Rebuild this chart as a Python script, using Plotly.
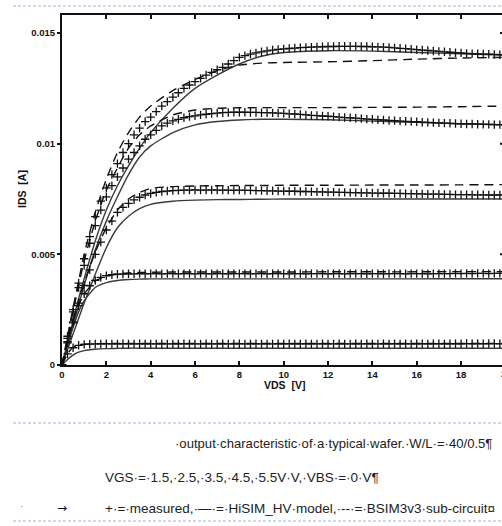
import plotly.graph_objects as go

# ---------------- data ----------------
vds_meas = [0.0, 0.25, 0.5, 0.75, 1.0, 1.25, 1.5, 1.75, 2.0, 2.25,
            2.5, 2.75, 3.0, 3.25, 3.5, 3.75, 4.0, 4.25, 4.5, 4.75,
            5.0, 5.25, 5.5, 5.75, 6.0, 6.25, 6.5, 6.75, 7.0, 7.25,
            7.5, 7.75, 8.0, 8.25, 8.5, 8.75, 9.0, 9.25, 9.5, 9.75,
            10.0, 10.25, 10.5, 10.75, 11.0, 11.25, 11.5, 11.75, 12.0, 12.25,
            12.5, 12.75, 13.0, 13.25, 13.5, 13.75, 14.0, 14.25, 14.5, 14.75,
            15.0, 15.25, 15.5, 15.75, 16.0, 16.25, 16.5, 16.75, 17.0, 17.25,
            17.5, 17.75, 18.0, 18.25, 18.5, 18.75, 19.0, 19.25, 19.5, 19.75,
            20.0]

meas_vgs15 = [0, 0.00050, 0.00078, 0.00089, 0.00093, 0.00094, 0.00095, 0.00095, 0.00096, 0.00095,
              0.00095, 0.00096, 0.00095, 0.00095, 0.00096, 0.00095, 0.00095, 0.00095, 0.00096, 0.00095,
              0.00095, 0.00095, 0.00096, 0.00095, 0.00095, 0.00095, 0.00096, 0.00095, 0.00095, 0.00096,
              0.00095, 0.00095, 0.00096, 0.00095, 0.00095, 0.00096, 0.00095, 0.00095, 0.00095, 0.00096,
              0.00095, 0.00096, 0.00095, 0.00095, 0.00096, 0.00095, 0.00095, 0.00096, 0.00095, 0.00095,
              0.00096, 0.00095, 0.00095, 0.00096, 0.00095, 0.00096, 0.00095, 0.00095, 0.00096, 0.00095,
              0.00096, 0.00095, 0.00096, 0.00095, 0.00096, 0.00096, 0.00095, 0.00096, 0.00096, 0.00095,
              0.00096, 0.00096, 0.00096, 0.00097, 0.00096, 0.00097, 0.00096, 0.00097, 0.00097, 0.00096,
              0.00097]

meas_vgs25 = [0, 0.00105, 0.00195, 0.00268, 0.00322, 0.00358, 0.00382, 0.00396, 0.00404, 0.00408,
              0.00410, 0.00411, 0.00412, 0.00412, 0.00413, 0.00412, 0.00413, 0.00413, 0.00412, 0.00413,
              0.00413, 0.00412, 0.00413, 0.00413, 0.00412, 0.00413, 0.00413, 0.00412, 0.00413, 0.00413,
              0.00412, 0.00413, 0.00413, 0.00413, 0.00412, 0.00413, 0.00413, 0.00412, 0.00413, 0.00413,
              0.00413, 0.00412, 0.00413, 0.00413, 0.00412, 0.00413, 0.00413, 0.00413, 0.00412, 0.00413,
              0.00413, 0.00412, 0.00413, 0.00413, 0.00413, 0.00412, 0.00413, 0.00413, 0.00412, 0.00413,
              0.00413, 0.00413, 0.00412, 0.00413, 0.00413, 0.00413, 0.00412, 0.00413, 0.00413, 0.00413,
              0.00413, 0.00414, 0.00413, 0.00414, 0.00413, 0.00414, 0.00414, 0.00413, 0.00414, 0.00414,
              0.00414]

meas_vgs35 = [0, 0.00100, 0.00190, 0.00280, 0.00360, 0.00430, 0.00500, 0.00555, 0.00610, 0.00650,
              0.00690, 0.00712, 0.00730, 0.00746, 0.00758, 0.00768, 0.00775, 0.00780, 0.00784, 0.00786,
              0.00788, 0.00789, 0.00790, 0.00790, 0.00791, 0.00790, 0.00790, 0.00791, 0.00790, 0.00790,
              0.00790, 0.00789, 0.00790, 0.00789, 0.00789, 0.00788, 0.00788, 0.00787, 0.00787, 0.00786,
              0.00786, 0.00785, 0.00785, 0.00784, 0.00784, 0.00783, 0.00782, 0.00782, 0.00781, 0.00781,
              0.00780, 0.00780, 0.00779, 0.00779, 0.00778, 0.00778, 0.00777, 0.00777, 0.00776, 0.00776,
              0.00775, 0.00775, 0.00774, 0.00774, 0.00773, 0.00773, 0.00772, 0.00772, 0.00772, 0.00771,
              0.00771, 0.00770, 0.00770, 0.00770, 0.00769, 0.00769, 0.00769, 0.00768, 0.00768, 0.00768,
              0.00768]

meas_vgs45 = [0, 0.00120, 0.00240, 0.00350, 0.00450, 0.00550, 0.00630, 0.00700, 0.00760, 0.00810,
              0.00850, 0.00890, 0.00930, 0.00960, 0.00990, 0.01020, 0.01040, 0.01060, 0.01080, 0.01093,
              0.01103, 0.01110, 0.01117, 0.01122, 0.01126, 0.01130, 0.01133, 0.01136, 0.01138, 0.01140,
              0.01141, 0.01142, 0.01142, 0.01142, 0.01141, 0.01141, 0.01140, 0.01140, 0.01139, 0.01138,
              0.01137, 0.01135, 0.01134, 0.01132, 0.01130, 0.01128, 0.01127, 0.01125, 0.01124, 0.01122,
              0.01120, 0.01118, 0.01117, 0.01115, 0.01113, 0.01111, 0.01110, 0.01108, 0.01107, 0.01105,
              0.01104, 0.01102, 0.01101, 0.01100, 0.01099, 0.01097, 0.01096, 0.01095, 0.01094, 0.01093,
              0.01092, 0.01091, 0.01090, 0.01089, 0.01089, 0.01088, 0.01087, 0.01087, 0.01086, 0.01086,
              0.01085]

meas_vgs55 = [0, 0.00130, 0.00250, 0.00370, 0.00480, 0.00580, 0.00670, 0.00740, 0.00800, 0.00860,
              0.00910, 0.00960, 0.01000, 0.01040, 0.01070, 0.01100, 0.01120, 0.01145, 0.01170, 0.01190,
              0.01210, 0.01230, 0.01250, 0.01265, 0.01280, 0.01295, 0.01310, 0.01322, 0.01334, 0.01345,
              0.01360, 0.01375, 0.01390, 0.01398, 0.01405, 0.01410, 0.01415, 0.01419, 0.01423, 0.01426,
              0.01428, 0.01430, 0.01432, 0.01434, 0.01435, 0.01436, 0.01437, 0.01438, 0.01439, 0.01439,
              0.01440, 0.01440, 0.01440, 0.01440, 0.01439, 0.01439, 0.01438, 0.01437, 0.01436, 0.01435,
              0.01433, 0.01431, 0.01429, 0.01427, 0.01425, 0.01423, 0.01421, 0.01419, 0.01417, 0.01415,
              0.01413, 0.01411, 0.01410, 0.01408, 0.01407, 0.01406, 0.01405, 0.01404, 0.01403, 0.01402,
              0.01402]

vds_model = [0, 0.25, 0.5, 0.75, 1, 1.5, 2, 2.5, 3, 3.5, 4, 5, 6, 7, 8, 9, 10, 12, 14, 16, 18, 20]

hisim_vgs15 = [0, 0.00025, 0.00045, 0.00058, 0.00065, 0.00071, 0.00074, 0.00075, 0.00076, 0.00076, 0.00076,
               0.00076, 0.00076, 0.00076, 0.00076, 0.00076, 0.00076, 0.00076, 0.00076, 0.00076, 0.00076, 0.00076]
hisim_vgs25 = [0, 0.00090, 0.00170, 0.00240, 0.00290, 0.00350, 0.00372, 0.00382, 0.00386, 0.00388, 0.00389,
               0.00389, 0.00389, 0.00389, 0.00389, 0.00389, 0.00389, 0.00389, 0.00389, 0.00389, 0.00390, 0.00390]
hisim_vgs35 = [0, 0.00070, 0.00140, 0.00210, 0.00280, 0.00410, 0.00530, 0.00620, 0.00672, 0.00706, 0.00726,
               0.00740, 0.00745, 0.00747, 0.00748, 0.00749, 0.00750, 0.00750, 0.00750, 0.00750, 0.00750, 0.00750]
hisim_vgs45 = [0, 0.00090, 0.00180, 0.00270, 0.00360, 0.00520, 0.00650, 0.00760, 0.00860, 0.00940, 0.00990,
               0.01050, 0.01085, 0.01100, 0.01107, 0.01110, 0.01110, 0.01108, 0.01102, 0.01096, 0.01090, 0.01085]
hisim_vgs55 = [0, 0.00100, 0.00200, 0.00300, 0.00390, 0.00560, 0.00700, 0.00810, 0.00900, 0.00980, 0.01050,
               0.01160, 0.01250, 0.01310, 0.01360, 0.01395, 0.01412, 0.01420, 0.01418, 0.01412, 0.01406, 0.01400]

bsim_vgs15 = [0, 0.00050, 0.00080, 0.00090, 0.00094, 0.00096, 0.00097, 0.00097, 0.00097, 0.00097, 0.00097,
              0.00097, 0.00097, 0.00097, 0.00097, 0.00097, 0.00097, 0.00097, 0.00097, 0.00097, 0.00097, 0.00097]
bsim_vgs25 = [0, 0.00110, 0.00200, 0.00270, 0.00320, 0.00380, 0.00400, 0.00412, 0.00416, 0.00418, 0.00419,
              0.00420, 0.00420, 0.00420, 0.00420, 0.00420, 0.00420, 0.00421, 0.00421, 0.00421, 0.00422, 0.00422]
bsim_vgs35 = [0, 0.00100, 0.00200, 0.00290, 0.00370, 0.00510, 0.00620, 0.00700, 0.00750, 0.00780, 0.00798,
              0.00806, 0.00809, 0.00810, 0.00811, 0.00811, 0.00812, 0.00812, 0.00813, 0.00813, 0.00814, 0.00815]
bsim_vgs45 = [0, 0.00120, 0.00240, 0.00360, 0.00470, 0.00650, 0.00790, 0.00890, 0.00980, 0.01040, 0.01080,
              0.01130, 0.01152, 0.01160, 0.01162, 0.01163, 0.01163, 0.01163, 0.01164, 0.01165, 0.01167, 0.01170]
bsim_vgs55 = [0, 0.00130, 0.00260, 0.00380, 0.00500, 0.00690, 0.00840, 0.00960, 0.01050, 0.01120, 0.01170,
              0.01240, 0.01290, 0.01330, 0.01355, 0.01364, 0.01367, 0.01370, 0.01375, 0.01382, 0.01387, 0.01390]

x_tickvals = [0, 2, 4, 6, 8, 10, 12, 14, 16, 18]
x_ticktext = ["0", "2", "4", "6", "8", "10", "12", "14", "16", "18"]
y_tickvals = [0, 0.005, 0.01, 0.015]
y_ticktext = ["0", "0.005", "0.01", "0.015"]

caption_1 = "·output·characteristic·of·a·typical·wafer.·W/L·=·40/0.5¶"
caption_2 = "VGS·=·1.5,·2.5,·3.5,·4.5,·5.5V·V,·VBS·=·0·V¶"
caption_3 = "+·=·measured,·—·=·HiSIM_HV·model,·--·=·BSIM3v3·sub-circuit¤"

# ---------------- layout geometry (pixels) ----------------
W, H = 502, 526
L, T, B_PX = 62, 15, 365          # plot left, top, bottom in px
PW = W - L
PH = B_PX - T


def px_x(p):
    return (p - L) / PW


def px_y(p):
    return (B_PX - p) / PH


fig = go.Figure()

hisim = [hisim_vgs15, hisim_vgs25, hisim_vgs35, hisim_vgs45, hisim_vgs55]
bsim = [bsim_vgs15, bsim_vgs25, bsim_vgs35, bsim_vgs45, bsim_vgs55]
meas = [meas_vgs15, meas_vgs25, meas_vgs35, meas_vgs45, meas_vgs55]

for ys in hisim:
    fig.add_trace(go.Scatter(x=vds_model, y=ys, mode="lines",
                             line=dict(color="#3a3a3a", width=1.4, shape="spline", smoothing=0.6),
                             showlegend=False, hoverinfo="skip"))
for ys in bsim:
    fig.add_trace(go.Scatter(x=vds_model, y=ys, mode="lines",
                             line=dict(color="#111111", width=1.4, dash="9px,6px", shape="spline", smoothing=0.6),
                             showlegend=False, hoverinfo="skip"))
for ys in meas:
    fig.add_trace(go.Scatter(x=vds_meas, y=ys, mode="markers",
                             marker=dict(symbol="cross-thin", size=6,
                                         line=dict(color="#111111", width=1.3)),
                             showlegend=False, hoverinfo="skip"))

tickfont = dict(family="Liberation Sans", size=9.5, color="#111111", weight="bold")
titlefont = dict(family="Liberation Sans", size=10.5, color="#111111", weight="bold")

fig.update_xaxes(range=[0, PW / 22.17], showgrid=False, zeroline=False,
                 showline=True, linewidth=2, linecolor="#111111", mirror="ticks",
                 ticks="inside", ticklen=4, tickwidth=2, tickcolor="#111111",
                 tickvals=x_tickvals, ticktext=x_ticktext, tickfont=tickfont)
fig.update_yaxes(range=[0, PH / 22133.0], showgrid=False, zeroline=False,
                 showline=True, linewidth=2, linecolor="#111111",
                 ticks="outside", ticklen=3, tickwidth=2, tickcolor="#111111",
                 tickvals=y_tickvals, ticktext=y_ticktext, tickfont=tickfont)

annotations = [
    dict(text="VDS  [V]", x=px_x(284), y=px_y(385), xref="paper", yref="paper",
         showarrow=False, font=titlefont, xanchor="center", yanchor="middle"),
    dict(text="IDS  [A]", x=px_x(22), y=px_y(189), xref="paper", yref="paper",
         showarrow=False, font=titlefont, textangle=-90, xanchor="center", yanchor="middle"),
    dict(text="20", x=px_x(506), y=px_y(373), xref="paper", yref="paper",
         showarrow=False, font=tickfont, xanchor="center", yanchor="middle"),
]
capfont = dict(family="Liberation Sans", size=13.5, color="#222222")
annotations += [
    dict(text=caption_1, x=px_x(494), y=px_y(443), xref="paper", yref="paper",
         showarrow=False, font=dict(family="Liberation Sans", size=13.1, color="#222222"),
         xanchor="right", yanchor="middle"),
    dict(text=caption_2, x=px_x(103), y=px_y(477), xref="paper", yref="paper",
         showarrow=False, font=capfont, xanchor="left", yanchor="middle"),
    dict(text=caption_3, x=px_x(103), y=px_y(508), xref="paper", yref="paper",
         showarrow=False, font=capfont, xanchor="left", yanchor="middle"),
    dict(text="→", x=px_x(62), y=px_y(508), xref="paper", yref="paper",
         showarrow=False, font=dict(family="DejaVu Sans", size=12, color="#111111"),
         xanchor="center", yanchor="middle"),
    dict(text="·", x=px_x(21), y=px_y(506), xref="paper", yref="paper",
         showarrow=False, font=dict(family="Liberation Sans", size=10, color="#888888"),
         xanchor="center", yanchor="middle"),
]

sep = dict(color="#9db5d8", width=1, dash="3px,2px")
shapes = [
    dict(type="line", xref="paper", yref="paper", x0=px_x(13), x1=px_x(502),
         y0=px_y(6), y1=px_y(6), line=sep),
    dict(type="line", xref="paper", yref="paper", x0=px_x(13), x1=px_x(502),
         y0=px_y(423), y1=px_y(423), line=sep),
    dict(type="line", xref="paper", yref="paper", x0=px_x(13), x1=px_x(502),
         y0=px_y(521), y1=px_y(521), line=sep),
]
# inward ticks of the (off-screen) right frame
for v in [0.005, 0.01, 0.015]:
    shapes.append(dict(type="line", xref="paper", yref="y", x0=px_x(500), x1=1.0,
                       y0=v, y1=v, line=dict(color="#111111", width=2)))

fig.update_layout(width=W, height=H, margin=dict(l=L, r=0, t=T, b=H - B_PX, pad=0),
                  paper_bgcolor="white", plot_bgcolor="white",
                  annotations=annotations, shapes=shapes, showlegend=False)

fig.write_html("out.html")
